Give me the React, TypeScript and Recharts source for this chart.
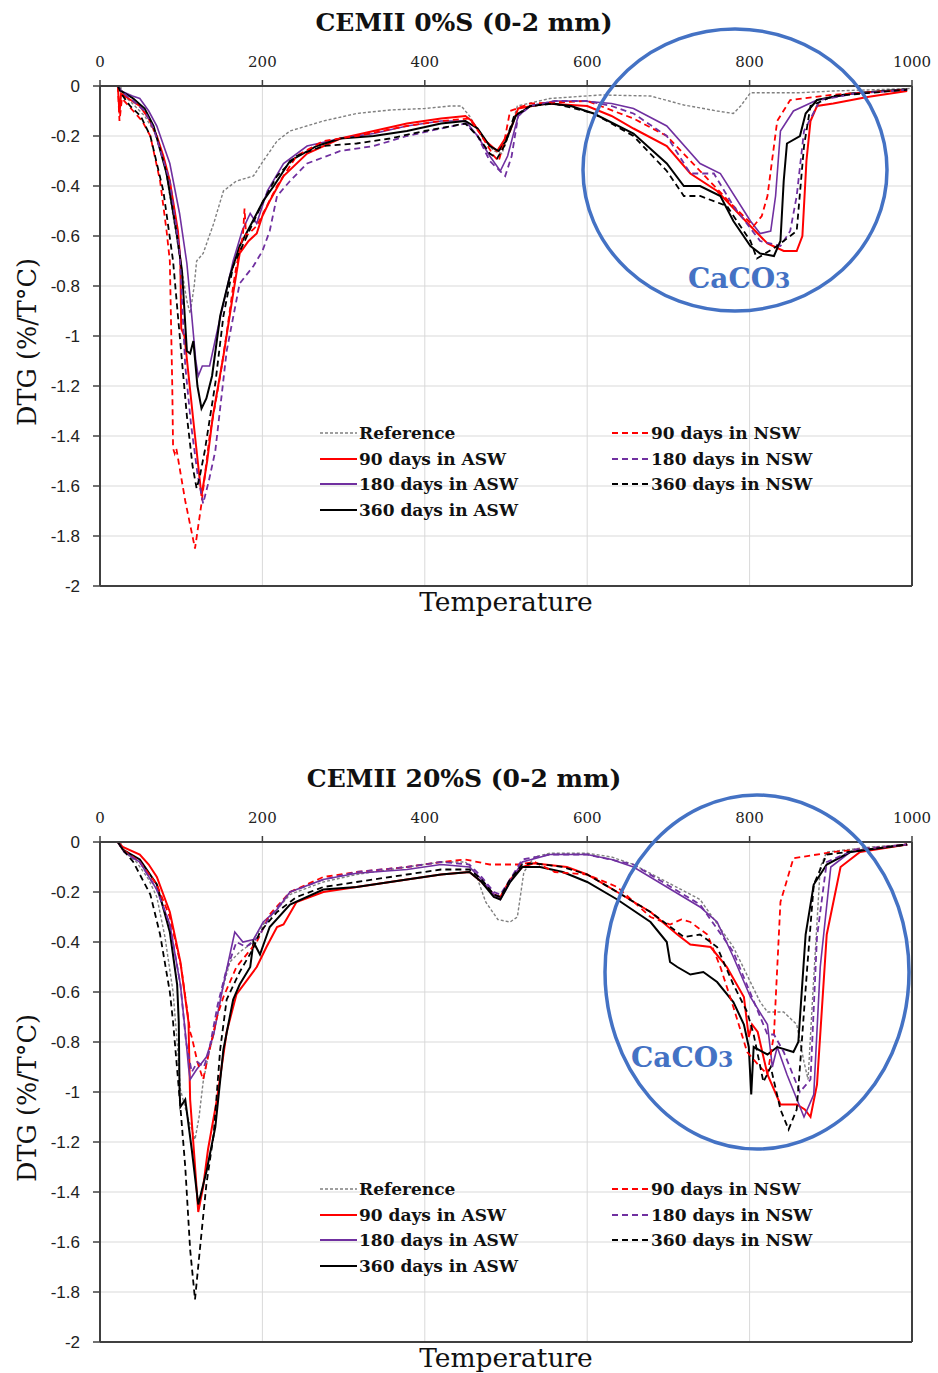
import { CartesianGrid, Legend, Line, LineChart, ReferenceLine, XAxis, YAxis } from "recharts";

const FONT = "'DejaVu Serif', 'Liberation Serif', serif";
const SANS = "'Liberation Sans', Arial, sans-serif";

const tempTicks = [0, 200, 400, 600, 800, 1000];
const dtgTicks = [0, -0.2, -0.4, -0.6, -0.8, -1, -1.2, -1.4, -1.6, -1.8, -2];

const seriesNames = [
  "Reference",
  "90 days in ASW",
  "180 days in ASW",
  "360 days in ASW",
  "90 days in NSW",
  "180 days in NSW",
  "360 days in NSW",
];
const seriesColors = ["#808080", "#FF0000", "#7030A0", "#000000", "#FF0000", "#7030A0", "#000000"];
const seriesWidths = [1.4, 2, 1.6, 2, 1.8, 1.8, 1.8];
const seriesDashes = ["3 2", undefined, undefined, undefined, "6 4", "6 4", "6 4"];

// CEMII 0%S (0-2 mm)
const p1Ref = [[25,0],[30,-0.04],[40,-0.07],[55,-0.12],[70,-0.2],[80,-0.32],[90,-0.52],[100,-0.72],[107,-0.86],[111,-0.91],[116,-0.8],[119,-0.7],[127,-0.67],[140,-0.55],[152,-0.42],[168,-0.38],[189,-0.36],[201,-0.3],[218,-0.22],[234,-0.18],[275,-0.14],[316,-0.11],[357,-0.096],[400,-0.09],[431,-0.08],[445,-0.08],[455,-0.12],[470,-0.2],[485,-0.26],[495,-0.27],[503,-0.2],[514,-0.08],[554,-0.05],[616,-0.036],[678,-0.04],[719,-0.076],[760,-0.1],[780,-0.11],[789,-0.08],[801,-0.027],[862,-0.027],[903,-0.02],[1000,-0.01]];
const p1Asw90 = [[22,0],[24,-0.11],[26,-0.03],[35,-0.05],[49,-0.08],[60,-0.13],[70,-0.2],[78,-0.28],[86,-0.38],[96,-0.58],[99,-0.7],[100,-0.97],[104,-1.0],[115,-1.34],[125,-1.64],[132,-1.5],[139,-1.32],[152,-1.08],[164,-0.83],[172,-0.67],[183,-0.62],[193,-0.59],[200,-0.52],[209,-0.46],[226,-0.36],[255,-0.27],[296,-0.21],[337,-0.18],[378,-0.15],[420,-0.13],[450,-0.12],[458,-0.14],[475,-0.22],[489,-0.26],[497,-0.22],[505,-0.18],[515,-0.09],[550,-0.07],[600,-0.08],[630,-0.12],[657,-0.17],[698,-0.24],[727,-0.35],[760,-0.42],[801,-0.56],[822,-0.63],[842,-0.66],[858,-0.66],[865,-0.6],[870,-0.3],[875,-0.14],[883,-0.08],[903,-0.07],[945,-0.044],[994,-0.02]];
const p1Asw180 = [[22,0],[26,-0.02],[40,-0.04],[49,-0.05],[60,-0.1],[70,-0.16],[86,-0.31],[98,-0.51],[107,-0.71],[113,-0.92],[118,-1.1],[121,-1.16],[126,-1.12],[135,-1.12],[143,-1.0],[152,-0.87],[164,-0.7],[175,-0.58],[185,-0.51],[193,-0.55],[206,-0.42],[226,-0.31],[255,-0.24],[296,-0.21],[337,-0.19],[378,-0.16],[420,-0.14],[450,-0.14],[465,-0.2],[480,-0.28],[493,-0.34],[502,-0.28],[515,-0.12],[530,-0.08],[560,-0.06],[595,-0.06],[630,-0.07],[657,-0.09],[698,-0.16],[739,-0.31],[764,-0.35],[801,-0.54],[813,-0.59],[826,-0.58],[832,-0.44],[838,-0.18],[854,-0.1],[883,-0.056],[930,-0.03],[994,-0.015]];
const p1Asw360 = [[22,0],[26,-0.02],[41,-0.05],[55,-0.09],[66,-0.16],[82,-0.35],[94,-0.58],[101,-0.74],[107,-1.06],[111,-1.07],[115,-1.02],[120,-1.2],[125,-1.29],[131,-1.25],[138,-1.16],[148,-0.92],[160,-0.76],[172,-0.64],[185,-0.56],[193,-0.51],[201,-0.46],[214,-0.4],[234,-0.3],[267,-0.24],[296,-0.21],[337,-0.2],[378,-0.18],[420,-0.15],[450,-0.14],[465,-0.17],[480,-0.24],[491,-0.26],[500,-0.22],[512,-0.12],[530,-0.08],[554,-0.07],[580,-0.08],[608,-0.11],[657,-0.19],[698,-0.31],[719,-0.4],[739,-0.4],[764,-0.44],[780,-0.54],[801,-0.64],[813,-0.67],[830,-0.68],[838,-0.62],[842,-0.38],[846,-0.23],[862,-0.2],[869,-0.11],[883,-0.056],[924,-0.03],[994,-0.013]];
const p1Nsw90 = [[22,0],[24,-0.14],[27,-0.05],[41,-0.1],[52,-0.14],[62,-0.2],[74,-0.38],[82,-0.58],[86,-0.7],[89,-1.2],[90,-1.45],[92,-1.47],[94,-1.45],[105,-1.66],[117,-1.85],[125,-1.67],[135,-1.4],[148,-1.16],[156,-0.99],[164,-0.8],[168,-0.72],[172,-0.66],[176,-0.6],[178,-0.49],[180,-0.6],[193,-0.56],[218,-0.4],[242,-0.28],[275,-0.22],[316,-0.2],[378,-0.16],[420,-0.14],[455,-0.13],[470,-0.2],[485,-0.28],[491,-0.3],[498,-0.22],[505,-0.1],[530,-0.07],[600,-0.06],[657,-0.13],[698,-0.2],[739,-0.34],[780,-0.48],[805,-0.56],[815,-0.52],[822,-0.44],[834,-0.14],[850,-0.056],[903,-0.035],[994,-0.015]];
const p1Nsw180 = [[22,0],[26,-0.02],[41,-0.06],[55,-0.1],[66,-0.17],[86,-0.38],[98,-0.66],[105,-1.12],[112,-1.35],[120,-1.55],[127,-1.67],[134,-1.58],[142,-1.46],[156,-1.06],[172,-0.79],[189,-0.72],[200,-0.66],[209,-0.58],[218,-0.44],[234,-0.38],[255,-0.31],[296,-0.26],[337,-0.24],[378,-0.2],[420,-0.17],[450,-0.15],[465,-0.2],[480,-0.3],[499,-0.36],[507,-0.28],[515,-0.12],[530,-0.08],[560,-0.06],[600,-0.06],[630,-0.08],[657,-0.11],[698,-0.2],[727,-0.35],[756,-0.35],[780,-0.48],[813,-0.62],[838,-0.64],[850,-0.58],[858,-0.44],[867,-0.18],[887,-0.056],[930,-0.03],[994,-0.015]];
const p1Nsw360 = [[22,0],[26,-0.03],[37,-0.08],[50,-0.12],[62,-0.2],[78,-0.42],[90,-0.7],[96,-0.92],[107,-1.32],[114,-1.52],[119,-1.61],[123,-1.56],[129,-1.46],[142,-1.19],[152,-0.92],[164,-0.72],[181,-0.6],[201,-0.46],[218,-0.36],[242,-0.28],[275,-0.24],[316,-0.23],[357,-0.21],[400,-0.18],[450,-0.15],[465,-0.2],[480,-0.27],[489,-0.29],[498,-0.24],[510,-0.12],[530,-0.08],[560,-0.07],[608,-0.11],[657,-0.2],[698,-0.34],[719,-0.44],[739,-0.44],[772,-0.48],[801,-0.62],[809,-0.69],[834,-0.64],[858,-0.58],[867,-0.24],[875,-0.08],[903,-0.04],[994,-0.015]];

// CEMII 20%S (0-2 mm)
const p2Ref = [[25,0],[30,-0.04],[45,-0.08],[60,-0.15],[70,-0.22],[80,-0.38],[90,-0.6],[95,-0.8],[99,-0.99],[108,-1.1],[117,-1.19],[122,-1.1],[127,-0.96],[133,-0.86],[140,-0.77],[150,-0.6],[160,-0.48],[172,-0.44],[185,-0.41],[201,-0.33],[218,-0.27],[234,-0.21],[275,-0.16],[316,-0.13],[378,-0.1],[420,-0.08],[450,-0.08],[462,-0.12],[475,-0.24],[490,-0.31],[505,-0.32],[514,-0.3],[522,-0.12],[535,-0.06],[554,-0.045],[600,-0.045],[630,-0.06],[657,-0.09],[698,-0.16],[739,-0.23],[780,-0.42],[813,-0.64],[822,-0.68],[842,-0.68],[858,-0.73],[867,-0.88],[872,-0.95],[878,-0.6],[887,-0.1],[895,-0.04],[950,-0.02],[994,-0.01]];
const p2Asw90 = [[22,0],[28,-0.02],[49,-0.05],[60,-0.09],[70,-0.14],[86,-0.28],[99,-0.48],[109,-0.72],[111,-1.03],[116,-1.25],[121,-1.48],[127,-1.38],[133,-1.23],[144,-1.03],[156,-0.76],[168,-0.61],[193,-0.5],[205,-0.42],[218,-0.34],[226,-0.33],[242,-0.24],[275,-0.2],[316,-0.18],[378,-0.15],[420,-0.13],[455,-0.12],[470,-0.16],[485,-0.21],[493,-0.22],[505,-0.15],[520,-0.1],[534,-0.085],[575,-0.1],[600,-0.13],[637,-0.2],[678,-0.28],[711,-0.37],[727,-0.41],[752,-0.42],[772,-0.5],[793,-0.62],[799,-0.78],[803,-0.73],[810,-0.76],[822,-0.93],[838,-1.05],[858,-1.05],[868,-1.07],[875,-1.1],[883,-0.97],[895,-0.37],[912,-0.1],[936,-0.04],[994,-0.01]];
const p2Asw180 = [[22,0],[30,-0.04],[49,-0.08],[70,-0.19],[86,-0.33],[99,-0.57],[105,-0.76],[109,-0.9],[111,-0.95],[119,-0.91],[131,-0.86],[140,-0.77],[152,-0.57],[160,-0.45],[166,-0.36],[176,-0.4],[189,-0.39],[201,-0.32],[218,-0.27],[234,-0.2],[275,-0.15],[316,-0.125],[378,-0.11],[420,-0.09],[455,-0.1],[470,-0.15],[485,-0.21],[493,-0.23],[505,-0.16],[520,-0.08],[554,-0.05],[600,-0.05],[630,-0.07],[657,-0.1],[698,-0.18],[739,-0.26],[760,-0.32],[780,-0.46],[801,-0.62],[822,-0.73],[828,-0.9],[834,-0.82],[846,-0.93],[867,-1.1],[879,-1.01],[887,-0.5],[900,-0.1],[924,-0.04],[994,-0.01]];
const p2Asw360 = [[22,0],[28,-0.03],[49,-0.07],[70,-0.17],[86,-0.36],[95,-0.57],[97,-0.72],[98,-1.0],[99,-1.06],[105,-1.03],[113,-1.23],[121,-1.45],[131,-1.32],[142,-1.14],[152,-0.83],[164,-0.63],[172,-0.57],[185,-0.5],[189,-0.4],[197,-0.45],[209,-0.34],[234,-0.25],[275,-0.19],[316,-0.18],[378,-0.15],[420,-0.13],[455,-0.12],[470,-0.16],[485,-0.22],[493,-0.23],[505,-0.16],[520,-0.1],[542,-0.1],[570,-0.12],[600,-0.16],[637,-0.23],[678,-0.32],[698,-0.4],[702,-0.48],[711,-0.5],[727,-0.53],[743,-0.52],[760,-0.56],[780,-0.64],[793,-0.73],[799,-0.82],[802,-1.01],[805,-0.82],[822,-0.85],[834,-0.82],[854,-0.84],[860,-0.8],[869,-0.37],[879,-0.17],[895,-0.09],[924,-0.04],[994,-0.01]];
const p2Nsw90 = [[22,0],[28,-0.03],[49,-0.08],[70,-0.17],[86,-0.3],[100,-0.5],[111,-0.76],[113,-0.78],[120,-0.88],[127,-0.95],[135,-0.83],[144,-0.7],[152,-0.62],[168,-0.5],[193,-0.4],[209,-0.29],[234,-0.2],[275,-0.14],[316,-0.12],[378,-0.1],[420,-0.08],[450,-0.07],[480,-0.09],[515,-0.09],[535,-0.08],[560,-0.12],[600,-0.13],[637,-0.18],[678,-0.3],[702,-0.33],[716,-0.31],[727,-0.32],[748,-0.37],[764,-0.5],[780,-0.66],[797,-0.84],[813,-0.9],[822,-0.93],[830,-0.77],[838,-0.24],[854,-0.065],[903,-0.04],[994,-0.01]];
const p2Nsw180 = [[22,0],[30,-0.04],[49,-0.08],[70,-0.19],[86,-0.33],[99,-0.57],[106,-0.8],[113,-0.92],[120,-0.88],[128,-0.9],[134,-0.84],[145,-0.65],[155,-0.52],[168,-0.4],[180,-0.42],[195,-0.38],[209,-0.3],[234,-0.2],[275,-0.15],[316,-0.12],[378,-0.1],[420,-0.08],[455,-0.09],[470,-0.14],[485,-0.2],[493,-0.21],[505,-0.15],[520,-0.07],[554,-0.05],[600,-0.05],[657,-0.09],[698,-0.17],[739,-0.25],[780,-0.44],[822,-0.77],[830,-0.77],[842,-0.84],[862,-1.0],[875,-0.95],[883,-0.38],[895,-0.08],[930,-0.03],[994,-0.01]];
const p2Nsw360 = [[22,0],[28,-0.03],[41,-0.08],[62,-0.21],[74,-0.37],[86,-0.6],[90,-0.72],[99,-1.06],[105,-1.3],[111,-1.63],[117,-1.83],[123,-1.63],[131,-1.37],[140,-1.17],[148,-0.83],[156,-0.63],[172,-0.52],[188,-0.43],[197,-0.36],[218,-0.28],[242,-0.22],[275,-0.18],[316,-0.16],[378,-0.13],[420,-0.11],[455,-0.11],[470,-0.15],[485,-0.21],[493,-0.22],[505,-0.15],[520,-0.09],[535,-0.085],[570,-0.1],[600,-0.13],[637,-0.2],[678,-0.28],[719,-0.38],[739,-0.37],[760,-0.42],[780,-0.57],[797,-0.68],[805,-0.77],[817,-0.96],[826,-0.9],[838,-1.07],[848,-1.15],[858,-1.07],[862,-0.9],[871,-0.5],[879,-0.17],[895,-0.05],[994,-0.01]];

const panel1 = [p1Ref, p1Asw90, p1Asw180, p1Asw360, p1Nsw90, p1Nsw180, p1Nsw360];
const panel2 = [p2Ref, p2Asw90, p2Asw180, p2Asw360, p2Nsw90, p2Nsw180, p2Nsw360];

const toPoints = (arr: number[][]) => arr.map(([t, v]) => ({ t, v }));

function LegendBox() {
  const cols = [[0, 1, 2, 3], [4, 5, 6]];
  return (
    <div style={{ position: "relative", width: 540, height: 110 }}>
      {cols.map((col, ci) =>
        col.map((si, ri) => (
          <div
            key={si}
            style={{
              position: "absolute",
              left: ci * 292,
              top: ri * 25.7,
              height: 26,
              display: "flex",
              alignItems: "center",
              whiteSpace: "nowrap",
            }}
          >
            <svg width={37} height={10}>
              <line x1={0} y1={5} x2={37} y2={5} stroke={seriesColors[si]} strokeWidth={si === 0 ? 1.4 : 2} strokeDasharray={seriesDashes[si]} />
            </svg>
            <span style={{ fontFamily: FONT, fontWeight: "bold", fontSize: 17, color: "#111", marginLeft: 2 }}>
              {seriesNames[si]}
            </span>
          </div>
        ))
      )}
    </div>
  );
}

function Panel({ top, data }: { top: number; data: number[][][] }) {
  return (
    <div style={{ position: "absolute", left: 0, top, width: 938, height: 640 }}>
      <LineChart width={938} height={640} margin={{ top: 56, right: 26, bottom: 54, left: 60 }}>
        <CartesianGrid stroke="#d9d9d9" strokeWidth={1} />
        <XAxis
          type="number"
          dataKey="t"
          domain={[0, 1000]}
          ticks={tempTicks}
          orientation="top"
          height={30}
          allowDataOverflow
          axisLine={{ stroke: "#404040", strokeWidth: 2 }}
          tickLine={{ stroke: "#404040", strokeWidth: 1.5 }}
          tickSize={6}
          tickMargin={13}
          tick={{ fontFamily: FONT, fontSize: 15, fill: "#222" }}
        />
        <YAxis
          type="number"
          domain={[-2, 0]}
          ticks={dtgTicks}
          interval={0}
          width={40}
          allowDataOverflow
          axisLine={{ stroke: "#404040", strokeWidth: 2 }}
          tickLine={{ stroke: "#404040", strokeWidth: 1.5 }}
          tickSize={7}
          tickMargin={13}
          tick={{ fontFamily: SANS, fontSize: 17, fill: "#222" }}
        />
        <ReferenceLine y={-2} stroke="#404040" strokeWidth={2} />
        <ReferenceLine x={1000} stroke="#404040" strokeWidth={2} />
        {data.map((arr, i) => (
          <Line
            key={seriesNames[i]}
            name={seriesNames[i]}
            data={toPoints(arr)}
            dataKey="v"
            type="linear"
            stroke={seriesColors[i]}
            strokeWidth={seriesWidths[i]}
            strokeDasharray={seriesDashes[i]}
            dot={false}
            activeDot={false}
            isAnimationActive={false}
          />
        ))}
        <Legend
          layout="vertical"
          align="center"
          verticalAlign="middle"
          wrapperStyle={{ left: 320, top: 420, width: 540, height: 110 }}
          content={() => <LegendBox />}
        />
      </LineChart>
    </div>
  );
}

function Overlay() {
  const blue = "#4472C4";
  const panels = [
    { dy: 0, title: "CEMII 0%S (0-2 mm)", cx: 735, cy: 170, rx: 152, ry: 141, lx: 688, ly: 288 },
    { dy: 756, title: "CEMII 20%S (0-2 mm)", cx: 757, cy: 216, rx: 152, ry: 177, lx: 631, ly: 311 },
  ];
  return (
    <svg width={938} height={1373} style={{ position: "absolute", left: 0, top: 0, pointerEvents: "none" }}>
      {panels.map((p) => (
        <g key={p.title} transform={`translate(0, ${p.dy})`} fontFamily={FONT}>
          <text x={464} y={22} textAnchor="middle" dominantBaseline="central" fontSize={25} fontWeight="bold" fill="#111">
            {p.title}
          </text>
          <text
            x={27}
            y={342}
            textAnchor="middle"
            dominantBaseline="central"
            fontSize={25.5}
            fill="#111"
            transform="rotate(-90 27 342)"
          >
            DTG (%/T°C)
          </text>
          <text x={506} y={601} textAnchor="middle" dominantBaseline="central" fontSize={26.5} fill="#111">
            Temperature
          </text>
          <ellipse cx={p.cx} cy={p.cy} rx={p.rx} ry={p.ry} fill="none" stroke={blue} strokeWidth={3.5} />
          <text x={p.lx} y={p.ly} fontSize={28} fontWeight="bold" fill={blue}>
            CaCO<tspan fontSize={22}>3</tspan>
          </text>
        </g>
      ))}
    </svg>
  );
}

export default function App() {
  return (
    <div style={{ position: "absolute", left: 0, top: 0, width: 938, height: 1373, background: "#fff" }}>
      <Panel top={0} data={panel1} />
      <Panel top={756} data={panel2} />
      <Overlay />
    </div>
  );
}
